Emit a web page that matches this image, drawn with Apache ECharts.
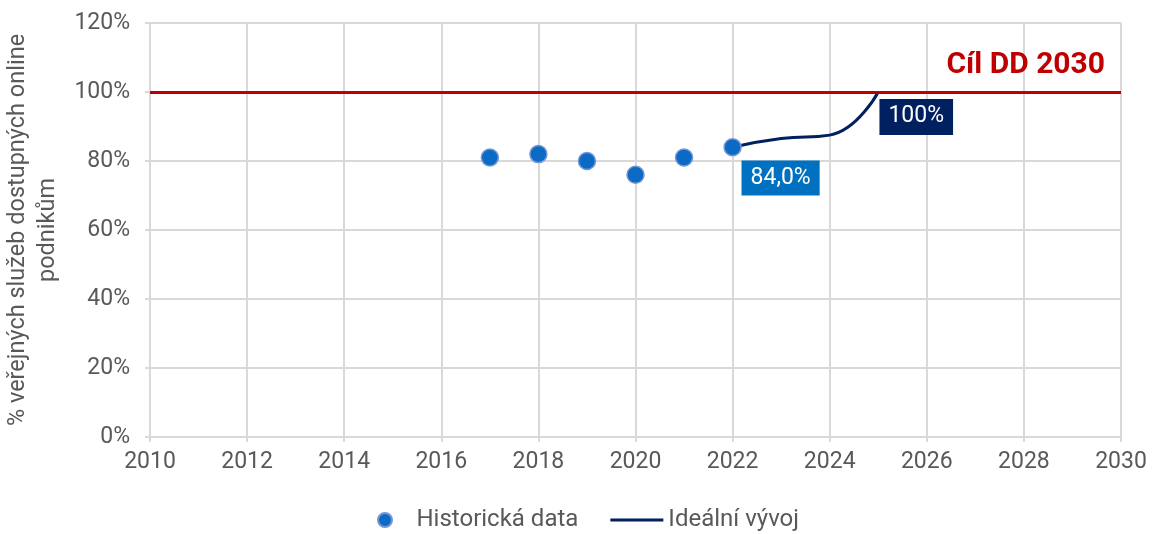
<!DOCTYPE html>
<html>
<head>
<meta charset="utf-8">
<script src="https://cdn.jsdelivr.net/npm/echarts@6/dist/echarts.min.js"></script>
<style>
  html, body { margin: 0; padding: 0; background: #fff; }
  #chart { width: 1152px; height: 534px; }
</style>
</head>
<body>
<div id="chart"></div>
<script>
var chart = echarts.init(document.getElementById('chart'));
var option;

// historical values (year, %)
const histYears = [2017, 2018, 2019, 2020, 2021, 2022];
const histValues = [81, 82, 80, 76, 81, 84];

// ideal trajectory to the target
const idealYears = [2022, 2023, 2024, 2025];
const idealValues = [84, 86.5, 87.5, 100];

const targetValue = 100;
const targetLabel = 'Cíl DD 2030';

const axisColor = '#595959';
const gridColor = '#d9d9d9';

const histData = histYears.map(function (y, i) {
  const item = { value: [y, histValues[i]] };
  if (i === histYears.length - 1) {
    item.label = {
      show: true,
      position: 'bottom',
      offset: [48, -1],
      formatter: function (p) { return p.value[1].toFixed(1).replace('.', ',') + '%'; },
      backgroundColor: '#0070c0',
      color: '#fff',
      fontSize: 23,
      padding: [6, 9, 6, 9]
    };
  }
  return item;
});

const idealData = idealYears.map(function (y, i) {
  const item = { value: [y, idealValues[i]], symbol: 'none' };
  if (i === idealYears.length - 1) {
    item.symbol = 'circle';
    item.symbolSize = 2;
    item.label = {
      show: true,
      position: 'bottom',
      offset: [38, 1],
      formatter: function (p) { return p.value[1] + '%'; },
      backgroundColor: '#002060',
      color: '#fff',
      fontSize: 23,
      padding: [6, 9, 7, 9]
    };
  }
  return item;
});

option = {
  animation: false,
  textStyle: { fontFamily: 'Roboto' },
  grid: { left: 150, right: 31, top: 23, bottom: 97, containLabel: false, outerBoundsMode: 'none' },
  legend: {
    left: 372,
    top: 503,
    itemWidth: 53,
    itemHeight: 14,
    itemGap: 32,
    textStyle: { fontSize: 24, color: axisColor },
    data: [
      { name: 'Historická data', icon: 'circle' },
      { name: 'Ideální vývoj', icon: 'path://M0,0 L53,0 L53,3.2 L0,3.2 Z', itemStyle: { color: '#002060', opacity: 1 } }
    ]
  },
  xAxis: {
    type: 'value',
    min: 2010,
    max: 2030,
    interval: 2,
    axisLine: { lineStyle: { color: gridColor, width: 2 } },
    axisTick: { show: true, length: 5, lineStyle: { color: gridColor, width: 2 } },
    axisLabel: { color: axisColor, fontSize: 23, margin: 14, formatter: function (v) { return String(v); } },
    splitLine: { show: true, lineStyle: { color: gridColor, width: 2 } }
  },
  yAxis: {
    type: 'value',
    min: 0,
    max: 120,
    interval: 20,
    name: '% veřejných služeb dostupných online\npodnikům',
    nameLocation: 'middle',
    nameRotate: 90,
    nameGap: 70,
    nameTextStyle: { color: axisColor, fontSize: 23.5, lineHeight: 30, align: 'center' },
    axisLine: { show: true, lineStyle: { color: gridColor, width: 2 } },
    axisTick: { show: true, length: 5, lineStyle: { color: gridColor, width: 2 } },
    axisLabel: { color: axisColor, fontSize: 23, margin: 20, formatter: function (v) { return v + '%'; } },
    splitLine: { show: true, lineStyle: { color: gridColor, width: 2 } }
  },
  series: [
    {
      name: 'Ideální vývoj',
      type: 'line',
      data: idealData,
      smooth: 0.5,
      showSymbol: true,
      itemStyle: { color: '#002060' },
      lineStyle: { color: '#002060', width: 3 },
      z: 3,
      markLine: {
        silent: true,
        symbol: 'none',
        data: [{ yAxis: targetValue }],
        lineStyle: { color: '#c00000', width: 3, type: 'solid' },
        label: {
          show: true,
          position: 'insideEndTop',
          formatter: targetLabel,
          color: '#c00000',
          fontSize: 30,
          fontWeight: 'bold',
          distance: [16, 12]
        }
      }
    },
    {
      name: 'Historická data',
      type: 'scatter',
      data: histData,
      symbolSize: 17,
      itemStyle: { color: '#0b6bc4', borderColor: '#7596d6', borderWidth: 1.5, opacity: 1 },
      z: 4
    }
  ]
};

option && chart.setOption(option);
</script>
</body>
</html>
